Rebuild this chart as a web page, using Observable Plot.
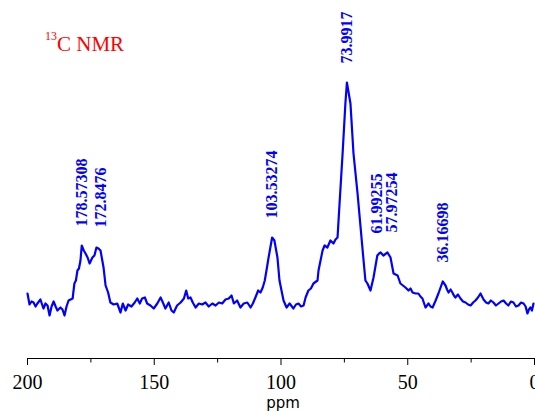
<!DOCTYPE html>
<html>
<head>
<meta charset="utf-8">
<script src="https://cdn.jsdelivr.net/npm/d3@7"></script>
<script src="https://cdn.jsdelivr.net/npm/@observablehq/plot@0.6"></script>
<style>
  html, body { margin: 0; padding: 0; background: #fff; overflow: hidden; }
  #chart svg { display: block; }
</style>
</head>
<body>
<div id="chart"></div>
<script>
// Spectrum: [chemical shift (ppm), intensity (arbitrary units)]
const spectrumPoints = [
  [200.0, 7], [199.2, -4], [198.4, -1], [197.6, -2], [196.8, -6], [196.1, -3], [194.9, 1],
  [193.7, -8], [192.9, -3], [192.1, -5], [191.3, -15], [190.5, -6], [189.7, -1], [188.9, -6],
  [188.2, -10], [187.0, -7], [186.2, -9], [185.4, -15], [184.6, -6], [183.8, 0], [182.2, 2],
  [181.5, 17], [180.9, 20], [180.3, 30], [179.7, 32], [179.1, 40], [178.6, 55], [177.8, 50],
  [177.1, 47], [176.3, 43], [175.5, 37], [174.4, 43], [173.6, 45], [172.8, 53], [172.0, 52],
  [171.2, 50], [170.0, 33], [169.2, 15], [168.2, 8], [167.3, -2], [166.0, -4], [164.6, -3],
  [163.3, -12], [162.4, -3], [161.3, -10], [160.3, -4], [159.0, -6], [157.7, -2], [156.7, 2],
  [155.7, -3], [154.8, 2], [153.7, 3], [152.8, -3], [151.5, -5], [150.2, -8], [148.8, -3],
  [147.5, 3], [146.6, -2], [145.6, -8], [144.3, -2], [143.2, -10], [142.3, -12], [141.0, -5],
  [139.6, -2], [138.3, 2], [137.4, 10], [136.6, 2], [135.7, 3], [134.8, -2], [133.7, -7],
  [132.4, -3], [131.1, -4], [129.8, -2], [128.5, -6], [127.1, -3], [125.8, -5], [124.5, -2],
  [123.2, -3], [121.9, 1], [120.6, 2], [119.5, 5], [118.6, -3], [117.3, 0], [116.0, -7],
  [114.7, -3], [113.3, -2], [112.0, -7], [111.1, -3], [110.1, 3], [109.0, 10], [108.1, 8],
  [107.2, 13], [106.4, 20], [105.6, 32], [104.9, 43], [103.5, 63], [102.6, 60], [101.4, 43],
  [100.6, 20], [99.0, 0], [97.8, -7], [96.6, -3], [95.1, -8], [94.1, -4], [93.1, -3],
  [92.1, -6], [91.1, -5], [90.3, 3], [89.2, 10], [88.2, 12], [87.2, 17], [85.6, 20],
  [85.2, 30], [83.6, 50], [82.8, 55], [81.7, 53], [80.5, 60], [79.3, 57], [78.5, 61],
  [77.7, 63], [76.9, 97], [75.7, 147], [74.6, 197], [74.0, 218], [72.6, 197], [71.4, 147],
  [69.8, 107], [68.6, 73], [67.5, 42], [66.7, 20], [65.9, 17], [64.7, 10], [63.5, 23],
  [62.0, 45], [61.3, 47], [60.7, 48], [59.6, 45], [58.0, 48], [56.8, 43], [55.6, 27],
  [54.0, 25], [52.9, 17], [51.9, 15], [50.9, 13], [49.7, 10], [48.9, 12], [48.1, 8],
  [46.9, 7], [45.8, 7], [45.0, 4], [44.2, 2], [43.0, -7], [41.8, -3], [41.0, -6],
  [40.2, -7], [39.0, 0], [37.9, 7], [36.2, 19], [35.1, 15], [34.5, 11], [33.9, 8],
  [33.1, 11], [32.4, 8], [31.8, 5], [31.2, 3], [30.2, 6], [29.2, 2], [28.2, -1],
  [27.2, -2], [26.2, -4], [25.2, -5], [24.2, -2], [23.3, 0], [22.3, 3], [21.3, 7],
  [20.1, 1], [19.1, -2], [18.2, -3], [17.2, 0], [16.2, -2], [15.2, -5], [14.2, -3],
  [13.2, -1], [12.2, 0], [11.2, -3], [10.3, -5], [9.3, -1], [8.3, -2], [7.3, -6],
  [6.3, -5], [5.3, -2], [4.3, -3], [3.5, -6], [2.8, -13], [2.2, -9], [1.6, -7],
  [1.0, -10], [0.4, -3]
];

// Peak annotations
const peakLabels = ["178.57308", "172.8476", "103.53274", "73.9917", "61.99255", "57.97254", "36.16698"];
const peakPpm = [178.57308, 172.8476, 103.53274, 73.9917, 61.99255, 57.97254, 36.16698];
const peakHeight = [55, 53, 63, 218, 48, 48, 19];

const majorTicks = [200, 150, 100, 50, 0];
const minorTicks = [175, 125, 75, 25];
const xLabel = "ppm";

const spectrum = spectrumPoints.map(([p, v]) => ({ppm: p, v}));
const peaks = peakLabels.map((t, i) => ({label: t, ppm: peakPpm[i], h: peakHeight[i]}));
const nudged = new Set([1, 5]); // second label of close pairs

const serif = "'Liberation Serif', 'Times New Roman', Times, serif";

const chart = Plot.plot({
  width: 535,
  height: 411,
  marginLeft: 27,
  marginRight: 1,
  marginTop: 0,
  marginBottom: 53,
  style: {fontFamily: serif, fontSize: "20px", color: "#000", background: "#fff", overflow: "visible"},
  x: {domain: [200, 0]},
  y: {domain: [-58, 300], axis: null},
  marks: [
    Plot.ruleY([-58], {stroke: "#000", strokeWidth: 1.2}),
    Plot.axisX({ticks: majorTicks, tickSize: 7, tickPadding: 9, tickFormat: d => String(d), label: null, fontFamily: serif, fontSize: 20}),
    Plot.axisX({ticks: minorTicks, tickSize: 4.5, tickFormat: () => "", label: null}),
    Plot.line(spectrum, {x: "ppm", y: "v", stroke: "#0000ff", strokeWidth: 2.2, strokeLinejoin: "round"}),
    Plot.text(peaks.filter((d, i) => !nudged.has(i)), {
      x: "ppm", y: "h", text: "label", rotate: -90, textAnchor: "start", dy: -19,
      fill: "#0000ff", fontWeight: "bold", fontSize: 16, fontFamily: serif
    }),
    Plot.text(peaks.filter((d, i) => nudged.has(i)), {
      x: "ppm", y: "h", text: "label", rotate: -90, textAnchor: "start", dy: -20, dx: 4.5,
      fill: "#0000ff", fontWeight: "bold", fontSize: 16, fontFamily: serif
    }),
    Plot.text([xLabel], {
      frameAnchor: "bottom", dy: 49, dx: 2, text: d => d,
      fontFamily: "'DejaVu Sans', sans-serif", fontSize: 15, fill: "#000"
    })
  ]
});

document.getElementById("chart").appendChild(chart);

// Title "13C NMR" with superscript
const svg = d3.select(chart);
const title = svg.append("text")
  .attr("x", 45).attr("y", 51)
  .attr("text-anchor", "start")
  .attr("fill", "#ff0000")
  .attr("font-family", serif);
title.append("tspan").attr("font-size", 12).attr("dy", -11.5).text("13");
title.append("tspan").attr("font-size", 21).attr("dy", 11.5).text("C NMR");
</script>
</body>
</html>
